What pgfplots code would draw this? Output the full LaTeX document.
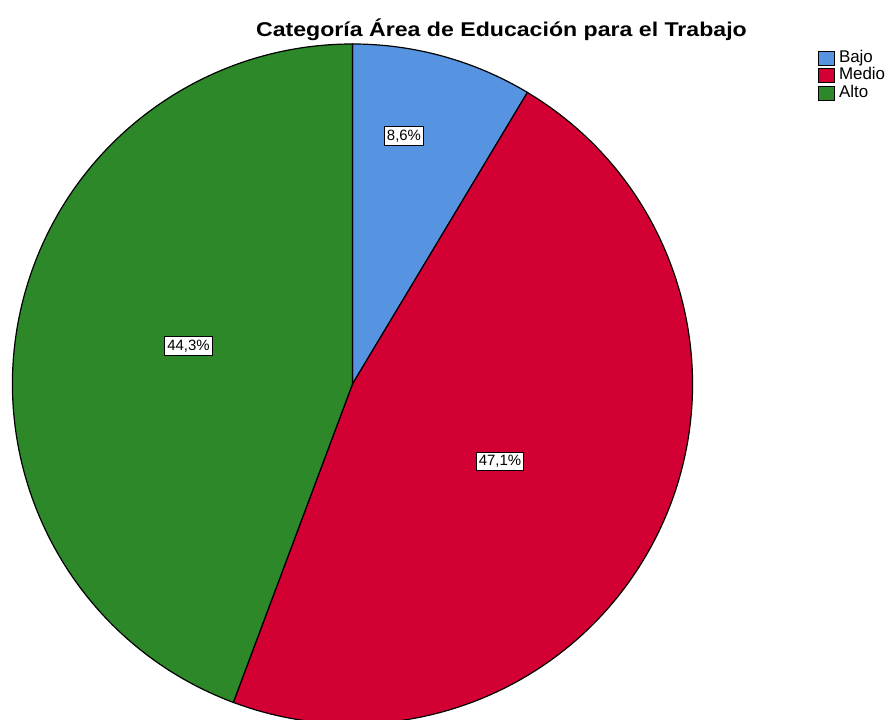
\documentclass[border=0pt]{standalone}
\usepackage{fontspec}
\setmainfont{Liberation Sans}
\usepackage{graphicx}
\usepackage{pgfplots}
\pgfplotsset{compat=1.18}
\definecolor{bajo}{RGB}{86,148,226}
\definecolor{medio}{RGB}{211,0,52}
\definecolor{alto}{RGB}{44,136,40}

% porcentajes por categoria
\def\pBajo{8.6}
\def\pMedio{47.1}
\def\pAlto{44.3}
\pgfmathsetmacro\aA{90}
\pgfmathsetmacro\aB{\aA-3.6*\pBajo}
\pgfmathsetmacro\aC{\aB-3.6*\pMedio}
\pgfmathsetmacro\aD{\aC-3.6*\pAlto}

\begin{document}
\begin{tikzpicture}
  \begin{axis}[
    name=ax,
    width=896bp, height=720bp, scale only axis,
    xmin=0, xmax=896, ymin=0, ymax=720,
    enlargelimits=false,
    hide axis, clip=false,
    legend image code/.code={\draw[#1,draw=black,line width=0.8bp] (0bp,-7bp) rectangle (16bp,7bp);},
    legend style={at={(axis cs:818,671)}, anchor=north west,
      draw=none, fill=none, inner sep=0pt, row sep=0pt,
      font=\fontsize{17}{19}\selectfont,
      cells={anchor=west},
      /tikz/every odd column/.append style={column sep=3bp},
      nodes={inner sep=1bp, text height=12bp, text depth=3.5bp}},
    ]
    \addlegendimage{fill=bajo}\addlegendentry{Bajo}
    \addlegendimage{fill=medio}\addlegendentry{Medio}
    \addlegendimage{fill=alto}\addlegendentry{Alto}

    \filldraw[fill=bajo, line width=1.2bp] (axis cs:352.5,336) -- ++(\aA:340bp)
      arc[start angle=\aA, end angle=\aB, radius=340bp] -- cycle;
    \filldraw[fill=medio, line width=1.2bp] (axis cs:352.5,336) -- ++(\aB:340bp)
      arc[start angle=\aB, end angle=\aC, radius=340bp] -- cycle;
    \filldraw[fill=alto, line width=1.2bp] (axis cs:352.5,336) -- ++(\aC:340bp)
      arc[start angle=\aC, end angle=\aD, radius=340bp] -- cycle;

    \tikzset{lbl/.style={draw=black, fill=white, line width=1bp, inner sep=2.5bp,
      text height=11bp, text depth=2.5bp, font=\fontsize{15}{17}\selectfont}}
    \node[lbl] at (axis cs:404,584) {8,6\%};
    \node[lbl] at (axis cs:500,258.5) {47,1\%};
    \node[lbl] at (axis cs:188.5,374) {44,3\%};

    \node[anchor=base, font=\fontsize{20}{24}\selectfont\bfseries] at (axis cs:501.5,683)
      {\scalebox{1.16}[1]{Categoría Área de Educación para el Trabajo}};
  \end{axis}
  \pgfresetboundingbox
  \useasboundingbox (ax.south west) rectangle (ax.north east);
\end{tikzpicture}
\end{document}
